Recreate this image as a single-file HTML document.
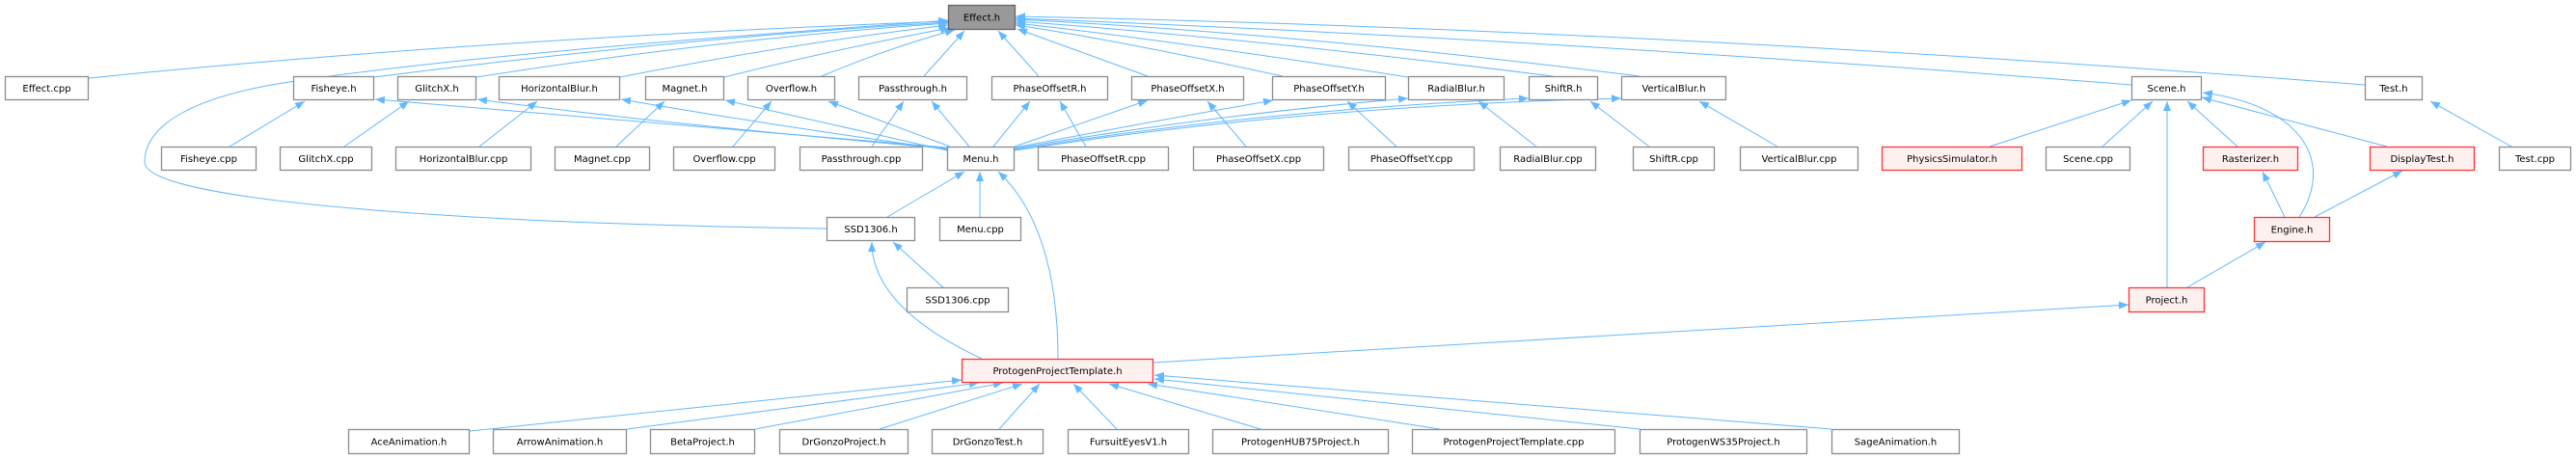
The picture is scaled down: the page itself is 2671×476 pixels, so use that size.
<!DOCTYPE html>
<html><head><meta charset="utf-8"><style>
html,body{margin:0;padding:0;background:#fff;}
svg{display:block;}
text{font-family:"DejaVu Sans","Liberation Sans",sans-serif;font-size:10px;fill:#000;}
.e{fill:none;stroke:#63b8ff;stroke-width:1;}
</style></head><body>
<svg width="2671" height="476" viewBox="0 0 2671 476" xmlns="http://www.w3.org/2000/svg">
<defs><marker id="a" markerUnits="userSpaceOnUse" markerWidth="11" markerHeight="8" refX="10" refY="4" orient="auto"><path d="M0,0 L10,4 L0,8 z" fill="#63b8ff"/></marker></defs>
<g class="edges">
<!-- Effect.h children -->
<path class="e" marker-end="url(#a)" d="M92,81 Q500,40 983,22"/>
<path class="e" marker-end="url(#a)" d="M388,80 Q700,40 983,23"/>
<path class="e" marker-end="url(#a)" d="M494,80 Q750,40 983,24"/>
<path class="e" marker-end="url(#a)" d="M643,80 Q820,45 983,26"/>
<path class="e" marker-end="url(#a)" d="M751,80 Q870,50 985,29"/>
<path class="e" marker-end="url(#a)" d="M852,79 Q920,50 990,31"/>
<path class="e" marker-end="url(#a)" d="M958,79 L1000,32"/>
<path class="e" marker-end="url(#a)" d="M1077,79 L1035,32"/>
<path class="e" marker-end="url(#a)" d="M1190,79 L1055,30"/>
<path class="e" marker-end="url(#a)" d="M1330,79 Q1150,40 1053,26"/>
<path class="e" marker-end="url(#a)" d="M1460,80 Q1200,40 1053,24"/>
<path class="e" marker-end="url(#a)" d="M1610,79 Q1300,40 1053,22"/>
<path class="e" marker-end="url(#a)" d="M1700,79 Q1350,35 1053,20"/>
<path class="e" marker-end="url(#a)" d="M2210,88 Q1600,40 1053,19"/>
<path class="e" marker-end="url(#a)" d="M2452,88 Q1700,30 1053,17"/>
<path class="e" marker-end="url(#a)" d="M857,237 C500,232 150,210 150,168 C150,130 200,100 300,85 C500,55 800,35 983,21"/>
<!-- Menu.h to headers -->
<path class="e" marker-end="url(#a)" d="M982,153 Q700,130 389,103"/>
<path class="e" marker-end="url(#a)" d="M982,154 Q700,130 495,103"/>
<path class="e" marker-end="url(#a)" d="M982,155 Q800,130 644,103"/>
<path class="e" marker-end="url(#a)" d="M982,156 L752,104"/>
<path class="e" marker-end="url(#a)" d="M985,152 L859,105"/>
<path class="e" marker-end="url(#a)" d="M1005,152 L966,105"/>
<path class="e" marker-end="url(#a)" d="M1030,152 L1068,105"/>
<path class="e" marker-end="url(#a)" d="M1052,152 L1190,104"/>
<path class="e" marker-end="url(#a)" d="M1052,153 Q1200,125 1320,104"/>
<path class="e" marker-end="url(#a)" d="M1052,154 Q1250,120 1460,102"/>
<path class="e" marker-end="url(#a)" d="M1052,155 Q1300,115 1585,102"/>
<path class="e" marker-end="url(#a)" d="M1052,156 Q1350,110 1681,102"/>
<!-- cpp to headers -->
<path class="e" marker-end="url(#a)" d="M238,152 L316,105"/>
<path class="e" marker-end="url(#a)" d="M357,152 L424,105"/>
<path class="e" marker-end="url(#a)" d="M497,152 L557,105"/>
<path class="e" marker-end="url(#a)" d="M639,152 L689,105"/>
<path class="e" marker-end="url(#a)" d="M760,152 L800,105"/>
<path class="e" marker-end="url(#a)" d="M904,152 L937,105"/>
<path class="e" marker-end="url(#a)" d="M1126,152 L1099,105"/>
<path class="e" marker-end="url(#a)" d="M1292,152 L1252,105"/>
<path class="e" marker-end="url(#a)" d="M1448,152 L1397,105"/>
<path class="e" marker-end="url(#a)" d="M1593,152 L1533,105"/>
<path class="e" marker-end="url(#a)" d="M1710,152 L1649,105"/>
<path class="e" marker-end="url(#a)" d="M1843,152 L1762,105"/>
<!-- Scene cluster -->
<path class="e" marker-end="url(#a)" d="M2063,152 L2210,104"/>
<path class="e" marker-end="url(#a)" d="M2180,152 L2232,105"/>
<path class="e" marker-end="url(#a)" d="M2320,152 L2268,105"/>
<path class="e" marker-end="url(#a)" d="M2475,152 L2283,101"/>
<path class="e" marker-end="url(#a)" d="M2384,225 C2420,170 2390,110 2284,96"/>
<path class="e" marker-end="url(#a)" d="M2247,298 L2247,105"/>
<path class="e" marker-end="url(#a)" d="M2369,225 L2346,178"/>
<path class="e" marker-end="url(#a)" d="M2400,225 L2491,177"/>
<path class="e" marker-end="url(#a)" d="M2268,298 L2349,251"/>
<path class="e" marker-end="url(#a)" d="M2604,152 L2520,105"/>
<!-- Menu, SSD1306 -->
<path class="e" marker-end="url(#a)" d="M920,225 L1000,178"/>
<path class="e" marker-end="url(#a)" d="M1016,225 L1016,178"/>
<path class="e" marker-end="url(#a)" d="M1097,372 C1097,280 1075,215 1035,178"/>
<path class="e" marker-end="url(#a)" d="M1018,372 C960,345 904,305 904,251"/>
<path class="e" marker-end="url(#a)" d="M979,299 L926,251"/>
<path class="e" marker-end="url(#a)" d="M1196,376 L2207,316"/>
<!-- PPT children -->
<path class="e" marker-end="url(#a)" d="M487,447 L997,394"/>
<path class="e" marker-end="url(#a)" d="M650,445 L1015,397"/>
<path class="e" marker-end="url(#a)" d="M783,445 L1040,397"/>
<path class="e" marker-end="url(#a)" d="M912,445 L1060,398"/>
<path class="e" marker-end="url(#a)" d="M1036,445 L1078,398"/>
<path class="e" marker-end="url(#a)" d="M1158,445 L1113,398"/>
<path class="e" marker-end="url(#a)" d="M1307,445 L1150,398"/>
<path class="e" marker-end="url(#a)" d="M1493,445 L1190,398"/>
<path class="e" marker-end="url(#a)" d="M1700,445 L1197,393"/>
<path class="e" marker-end="url(#a)" d="M1899,445 L1197,389"/>
</g>
<g id="nodes"></g>
</svg>
<script>
const N=[
["Effect.h",983,1053,5,31,"g"],
["Effect.cpp",5,92,79,104],["Fisheye.h",304,388,79,104],["GlitchX.h",412,494,79,104],["HorizontalBlur.h",517,643,79,104],["Magnet.h",669,751,79,104],["Overflow.h",775,866,79,104],["Passthrough.h",890,1003,79,104],["PhaseOffsetR.h",1028,1149,79,104],["PhaseOffsetX.h",1173,1290,79,104],["PhaseOffsetY.h",1319,1437,79,104],["RadialBlur.h",1460,1560,79,104],["ShiftR.h",1585,1657,79,104],["VerticalBlur.h",1681,1790,79,104],["Scene.h",2210,2283,79,104],["Test.h",2452,2512,79,104],
["Fisheye.cpp",167,266,152,177],["GlitchX.cpp",290,386,152,177],["HorizontalBlur.cpp",410,551,152,177],["Magnet.cpp",575,674,152,177],["Overflow.cpp",698,804,152,177],["Passthrough.cpp",829,957,152,177],["Menu.h",982,1052,152,177],["PhaseOffsetR.cpp",1076,1212,152,177],["PhaseOffsetX.cpp",1237,1373,152,177],["PhaseOffsetY.cpp",1398,1529,152,177],["RadialBlur.cpp",1555,1655,152,177],["ShiftR.cpp",1693,1778,152,177],["VerticalBlur.cpp",1804,1927,152,177],["PhysicsSimulator.h",1951,2097,152,177,"r"],["Scene.cpp",2121,2209,152,177],["Rasterizer.h",2284,2383,152,177,"r"],["DisplayTest.h",2457,2566,152,177,"r"],["Test.cpp",2591,2666,152,177],
["SSD1306.h",857,949,225,250],["Menu.cpp",974,1059,225,250],["Engine.h",2337,2416,225,251,"r"],
["SSD1306.cpp",940,1046,298,324],["Project.h",2207,2286,298,324,"r"],
["ProtogenProjectTemplate.h",997,1196,372,397,"r"],
["AceAnimation.h",361,487,445,471],["ArrowAnimation.h",511,650,445,471],["BetaProject.h",674,783,445,471],["DrGonzoProject.h",808,942,445,471],["DrGonzoTest.h",966,1082,445,471],["FursuitEyesV1.h",1107,1233,445,471],["ProtogenHUB75Project.h",1257,1440,445,471],["ProtogenProjectTemplate.cpp",1464,1675,445,471],["ProtogenWS35Project.h",1700,1874,445,471],["SageAnimation.h",1899,2032,445,471]
];
const g=document.getElementById("nodes");let h="";
for(const [t,x1,x2,y1,y2,k] of N){
 let fill="#fff",st="#8c8c8c";
 if(k=="g"){fill="#999";st="#666";}
 if(k=="r"){fill="#fff0f0";st="#ff3333";}
 h+=`<rect x="${x1+0.5}" y="${y1+0.5}" width="${x2-x1-1}" height="${y2-y1-1}" fill="${fill}" stroke="${st}" stroke-width="1.3"/>`;
 h+=`<text x="${(x1+x2)/2}" y="${(y1+y2)/2+3.5}" text-anchor="middle">${t}</text>`;
}
g.innerHTML=h;
</script>
</body></html>
